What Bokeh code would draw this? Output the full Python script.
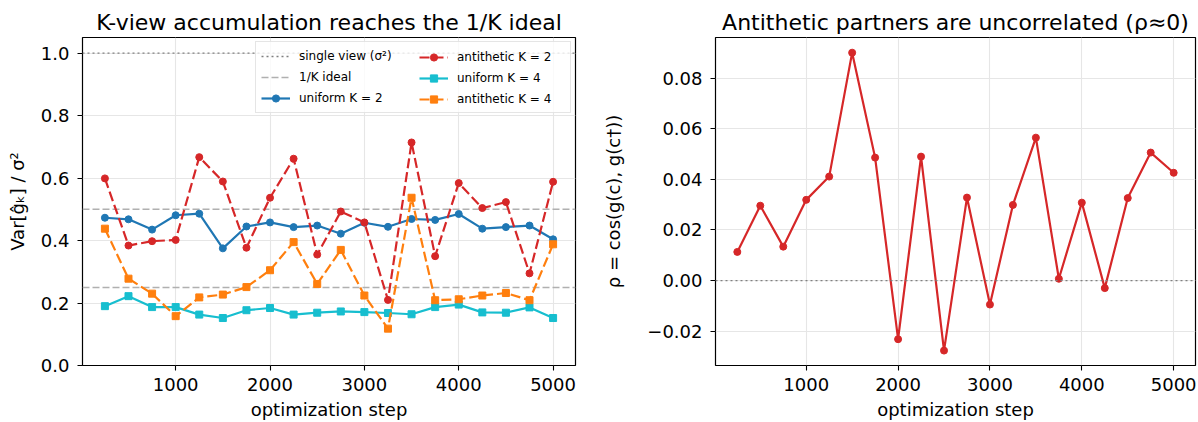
from bokeh.plotting import figure
from bokeh.models import (Legend, LegendItem, FixedTicker, NumeralTickFormatter,
                          CustomJSTickFormatter, ColumnDataSource, Range1d, Span)
from bokeh.layouts import row
from bokeh.embed import file_html
from bokeh.resources import INLINE

# ---------------- data ----------------
steps = [250, 500, 750, 1000, 1250, 1500, 1750, 2000, 2250, 2500,
         2750, 3000, 3250, 3500, 3750, 4000, 4250, 4500, 4750, 5000]

uniform_k2 = [0.473, 0.468, 0.435, 0.481, 0.486, 0.375, 0.445, 0.458, 0.443, 0.448,
              0.422, 0.457, 0.444, 0.469, 0.466, 0.485, 0.438, 0.443, 0.448, 0.404]
antithetic_k2 = [0.599, 0.384, 0.398, 0.402, 0.667, 0.589, 0.377, 0.537, 0.662, 0.355,
                 0.493, 0.458, 0.210, 0.714, 0.350, 0.584, 0.504, 0.523, 0.295, 0.588]
uniform_k4 = [0.190, 0.222, 0.187, 0.187, 0.163, 0.152, 0.177, 0.184, 0.163, 0.169,
              0.173, 0.171, 0.168, 0.164, 0.187, 0.195, 0.170, 0.169, 0.186, 0.152]
antithetic_k4 = [0.438, 0.278, 0.230, 0.158, 0.218, 0.227, 0.251, 0.305, 0.395, 0.261,
                 0.370, 0.224, 0.118, 0.537, 0.209, 0.212, 0.224, 0.232, 0.209, 0.388]

rho = [0.0113, 0.0296, 0.0134, 0.0319, 0.0411, 0.0901, 0.0486, -0.0232, 0.0490, -0.0277,
       0.0328, -0.0095, 0.0299, 0.0565, 0.0007, 0.0308, -0.0030, 0.0326, 0.0506, 0.0426]

single_view = 1.0
ideal_levels = [0.5, 0.25]
rho_zero = 0.0

x_limits = (12.5, 5237.5)
left_y_limits = (0.0, 1.05)
right_y_limits = (-0.0336, 0.0961)
x_ticks = [1000, 2000, 3000, 4000, 5000]
left_y_ticks = [0.0, 0.2, 0.4, 0.6, 0.8, 1.0]
right_y_ticks = [-0.02, 0.0, 0.02, 0.04, 0.06, 0.08]

left_title = "K-view accumulation reaches the 1/K ideal"
right_title = "Antithetic partners are uncorrelated (ρ≈0)"
x_label = "optimization step"
left_y_label = "Var[ĝₖ] / σ²"
right_y_label = "ρ = cos(g(c), g(c†))"
legend_labels = ["single view (σ²)", "1/K ideal", "uniform K = 2",
                 "antithetic K = 2", "uniform K = 4", "antithetic K = 4"]

# ---------------- style ----------------
FONT = "DejaVu Sans"
BLUE, RED, CYAN, ORANGE = "#1f77b4", "#d62728", "#17becf", "#ff7f0e"
GRID = "#e6e6e6"
REF_DOT = "#808080"
REF_DASH = "#b0b0b0"


def style(p):
    p.title.text_font = FONT
    p.title.text_font_size = "22px"
    p.title.text_font_style = "normal"
    p.title.text_color = "black"
    p.title.align = "center"
    p.title.standoff = 5
    p.outline_line_color = "black"
    p.outline_line_width = 1.2
    p.outline_line_alpha = 1.0
    p.background_fill_color = "white"
    p.border_fill_color = "white"
    for ax in p.axis:
        ax.axis_line_color = None
        ax.major_tick_out = 5
        ax.major_tick_in = 0
        ax.minor_tick_out = 0
        ax.minor_tick_in = 0
        ax.major_tick_line_color = "black"
        ax.major_tick_line_width = 1.1
        ax.major_label_text_font = FONT
        ax.major_label_text_font_size = "18px"
        ax.major_label_text_color = "black"
        ax.axis_label_text_font = FONT
        ax.axis_label_text_font_size = "18px"
        ax.axis_label_text_font_style = "normal"
        ax.axis_label_text_color = "black"
    for g in p.grid:
        g.grid_line_color = GRID
        g.grid_line_width = 1.1
    p.xaxis.major_label_standoff = 7
    p.xaxis.axis_label_standoff = 5
    p.yaxis.major_label_standoff = 8


src = ColumnDataSource(dict(step=steps, u2=uniform_k2, a2=antithetic_k2,
                            u4=uniform_k4, a4=antithetic_k4, rho=rho))

# ---------------- left ----------------
p1 = figure(width=600, height=422, output_backend="svg", toolbar_location=None,
            x_range=Range1d(*x_limits), y_range=Range1d(*left_y_limits),
            title=left_title, min_border_left=82, min_border_right=25,
            min_border_top=37, min_border_bottom=5)
style(p1)
p1.xaxis.ticker = FixedTicker(ticks=x_ticks)
p1.xaxis.formatter = NumeralTickFormatter(format="0")
p1.yaxis.ticker = FixedTicker(ticks=left_y_ticks)
p1.yaxis.formatter = NumeralTickFormatter(format="0.0")
p1.xaxis.axis_label = x_label
p1.yaxis.axis_label = left_y_label
p1.yaxis.axis_label_standoff = 10

# reference levels drawn across the whole x range
r_single = p1.line(x=list(x_limits), y=[single_view, single_view],
                   line_color=REF_DOT, line_width=1.3, line_dash="2 3")
r_ideal = p1.multi_line(xs=[list(x_limits) for _ in ideal_levels],
                        ys=[[lv, lv] for lv in ideal_levels],
                        line_color=REF_DASH, line_width=1.5, line_dash="7 3")

l_u2 = p1.line("step", "u2", source=src, line_color=BLUE, line_width=2.2)
s_u2 = p1.scatter("step", "u2", source=src, marker="circle", size=7, color=BLUE)
l_a2 = p1.line("step", "a2", source=src, line_color=RED, line_width=2.2, line_dash="10 4")
s_a2 = p1.scatter("step", "a2", source=src, marker="circle", size=7, color=RED)
l_u4 = p1.line("step", "u4", source=src, line_color=CYAN, line_width=2.2)
s_u4 = p1.scatter("step", "u4", source=src, marker="square", size=7, color=CYAN)
l_a4 = p1.line("step", "a4", source=src, line_color=ORANGE, line_width=2.2, line_dash="10 4")
s_a4 = p1.scatter("step", "a4", source=src, marker="square", size=7, color=ORANGE)


def make_legend(items, label_width, framed, loc):
    # border always set (padding only applies with a border); hidden for the overlay
    leg = Legend(items=items, location=loc, margin=0, padding=5, spacing=3,
                 glyph_width=29, glyph_height=18, label_height=18, label_standoff=9,
                 label_width=label_width, label_text_font=FONT, label_text_font_size="12px",
                 label_text_color="black", border_line_color="#cccccc", border_line_width=1)
    if framed:
        leg.background_fill_color = "white"
        leg.background_fill_alpha = 0.8
    else:
        leg.border_line_alpha = 0.0
        leg.background_fill_alpha = 0.0
    return leg


leg1 = make_legend([LegendItem(label=legend_labels[0], renderers=[r_single]),
                    LegendItem(label=legend_labels[1], renderers=[r_ideal]),
                    LegendItem(label=legend_labels[2], renderers=[l_u2, s_u2])],
                   266, True, (173, 252))
leg2 = make_legend([LegendItem(label=legend_labels[3], renderers=[l_a2, s_a2]),
                    LegendItem(label=legend_labels[4], renderers=[l_u4, s_u4]),
                    LegendItem(label=legend_labels[5], renderers=[l_a4, s_a4])],
                   100, False, (332, 252))
p1.add_layout(leg1)
p1.add_layout(leg2)

# ---------------- right ----------------
p2 = figure(width=598, height=422, output_backend="svg", toolbar_location=None,
            x_range=Range1d(*x_limits), y_range=Range1d(*right_y_limits),
            title=right_title, min_border_left=104, min_border_right=3,
            min_border_top=37, min_border_bottom=5)
style(p2)
p2.xaxis.ticker = FixedTicker(ticks=x_ticks)
p2.xaxis.formatter = NumeralTickFormatter(format="0")
p2.yaxis.ticker = FixedTicker(ticks=right_y_ticks)
p2.yaxis.formatter = CustomJSTickFormatter(
    code="var v = Math.round(tick*100)/100; return (v < 0 ? '\u2212' : '') + Math.abs(v).toFixed(2);")
p2.xaxis.axis_label = x_label
p2.yaxis.axis_label = right_y_label
p2.yaxis.axis_label_standoff = 20

p2.add_layout(Span(location=rho_zero, dimension="width", line_color=REF_DOT,
                   line_width=1.3, line_dash="2 3"))
p2.line("step", "rho", source=src, line_color=RED, line_width=2.2)
p2.scatter("step", "rho", source=src, marker="circle", size=7, color=RED)

layout = row(p1, p2)
open("out.html", "w").write(file_html(layout, INLINE))
